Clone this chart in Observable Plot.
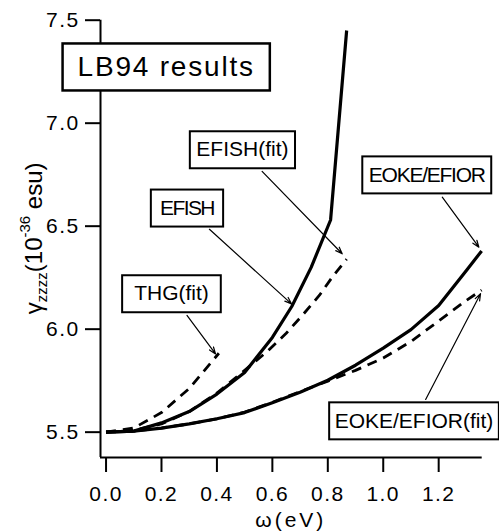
<!DOCTYPE html>
<html><head><meta charset="utf-8">
<script src="https://cdn.jsdelivr.net/npm/d3@7"></script>
<script src="https://cdn.jsdelivr.net/npm/@observablehq/plot@0.6"></script>
<style>
body{margin:0;background:#fff;}
#chart{width:499px;height:531px;}
</style>
</head><body>
<div id="chart"></div>
<script>
// ---- axes ----
const xDomain = [-0.02, 1.357];
const yDomain = [5.377, 7.5];
const xTicks = [0.0, 0.2, 0.4, 0.6, 0.8, 1.0, 1.2];
const yTicks = [5.5, 6.0, 6.5, 7.0, 7.5];

// ---- series (omega in eV, gamma_zzzz in 1e-36 esu) ----
const efishOmega = [0, 0.1, 0.2, 0.3, 0.4, 0.5, 0.6, 0.67, 0.74, 0.81, 0.868];
const efishGamma = [5.50, 5.505, 5.545, 5.60, 5.685, 5.79, 5.96, 6.11, 6.30, 6.53, 7.45];

const efishFitOmega = [0, 0.1, 0.2, 0.3, 0.4, 0.5, 0.58, 0.65, 0.71, 0.77, 0.82, 0.868];
const efishFitGamma = [5.50, 5.51, 5.54, 5.60, 5.69, 5.80, 5.89, 5.98, 6.07, 6.165, 6.26, 6.34];

const thgFitOmega = [0, 0.1, 0.2, 0.3, 0.407];
const thgFitGamma = [5.50, 5.52, 5.595, 5.712, 5.883];

const eokeOmega = [0, 0.1, 0.2, 0.3, 0.4, 0.5, 0.6, 0.7, 0.8, 0.9, 1.0, 1.1, 1.2, 1.3, 1.355];
const eokeGamma = [5.50, 5.505, 5.52, 5.54, 5.565, 5.595, 5.643, 5.694, 5.752, 5.825, 5.908, 5.998, 6.115, 6.285, 6.38];

const eokeFitOmega = [0, 0.1, 0.2, 0.3, 0.4, 0.5, 0.6, 0.7, 0.8, 0.9, 1.0, 1.1, 1.2, 1.3, 1.355];
const eokeFitGamma = [5.50, 5.505, 5.52, 5.54, 5.565, 5.597, 5.645, 5.697, 5.748, 5.80, 5.86, 5.94, 6.04, 6.14, 6.19];

// ---- annotations ----
const labelTexts = ["LB94 results", "EFISH(fit)", "EFISH", "THG(fit)", "EOKE/EFIOR", "EOKE/EFIOR(fit)"];
const labelOmega = [0.217, 0.492, 0.292, 0.236, 1.157, 1.111];
const labelGamma = [7.273, 6.871, 6.588, 6.172, 6.749, 5.555];

const arrowFromOmega = [0.563, 0.373, 0.292, 1.213, 1.153];
const arrowFromGamma = [6.766, 6.485, 6.067, 6.641, 5.659];
const arrowToOmega   = [0.852, 0.669, 0.395, 1.345, 1.351];
const arrowToGamma   = [6.366, 6.123, 5.880, 6.398, 6.172];

// ---- styles (kept apart from data) ----
const labelFontSize = [28, 21, 21, 21, 21, 21];
const labelLetterSpacing = [1.8, 0, -1.6, 0, -1.25, 0];
const boxPadX = [15, 6.5, 9, 12, 6, 5.5];
const boxHeight = [47, 37, 37, 37, 37, 37];
const boxStroke = [2.5, 2, 2, 2, 2, 2];
const FONT = "'Liberation Sans', Arial, Helvetica, sans-serif";

// build tidy tables
const zip = (name, xs, ys) => xs.map((x, i) => ({series: name, omega: x, gamma: ys[i]}));
const solid = [...zip("EFISH", efishOmega, efishGamma), ...zip("EOKE/EFIOR", eokeOmega, eokeGamma)];
const dashed = [...zip("EFISH(fit)", efishFitOmega, efishFitGamma), ...zip("THG(fit)", thgFitOmega, thgFitGamma), ...zip("EOKE/EFIOR(fit)", eokeFitOmega, eokeFitGamma)];
const labels = labelTexts.map((t, i) => ({text: t, omega: labelOmega[i], gamma: labelGamma[i], fs: labelFontSize[i]}));
const arrows = arrowFromOmega.map((x, i) => ({x1: x, y1: arrowFromGamma[i], x2: arrowToOmega[i], y2: arrowToGamma[i]}));
const frameLeft = [{x: xDomain[0], y1: yDomain[0], y2: yDomain[1]}];
const frameBottom = [{y: yDomain[0], x1: xDomain[0], x2: xDomain[1]}];

const plot = Plot.plot({
  width: 499, height: 531,
  marginLeft: 100, marginRight: 17.3, marginTop: 19.7, marginBottom: 74,
  x: {domain: xDomain},
  y: {domain: yDomain},
  style: {fontFamily: FONT, background: "white", color: "black", overflow: "visible"},
  marks: [
    Plot.ruleX(frameLeft, {x: "x", y1: "y1", y2: "y2", strokeWidth: 2, stroke: "black"}),
    Plot.ruleY(frameBottom, {y: "y", x1: "x1", x2: "x2", strokeWidth: 2, stroke: "black"}),
    Plot.axisY(yTicks, {tickSize: 15, tickPadding: 6, strokeWidth: 2, fontSize: 21, tickFormat: d => d.toFixed(1), label: null}),
    Plot.axisX(xTicks, {tickSize: 15, tickPadding: 14, strokeWidth: 2, fontSize: 21, tickFormat: d => d.toFixed(1), label: null}),
    Plot.line(solid, {x: "omega", y: "gamma", z: "series", stroke: "black", strokeWidth: 3.2, strokeLinecap: "butt"}),
    Plot.line(dashed, {x: "omega", y: "gamma", z: "series", stroke: "black", strokeWidth: 2.8, strokeDasharray: "10,7", strokeLinecap: "butt"}),
    Plot.arrow(arrows, {x1: "x1", y1: "y1", x2: "x2", y2: "y2", stroke: "black", strokeWidth: 1.2, headLength: 9, headAngle: 40}),
    Plot.text(labels, {x: "omega", y: "gamma", text: "text", fontSize: "fs", fill: "black", textAnchor: "middle"})
  ]
});

document.getElementById("chart").appendChild(plot);
const svg = d3.select(plot);
const xs = plot.scale("x"), ys = plot.scale("y");

// tick label spacing
svg.selectAll('g[aria-label="y-axis tick label"] text, g[aria-label="x-axis tick label"] text')
  .attr("letter-spacing", 1.4);

// boxes behind the labels
svg.selectAll('g[aria-label="text"] text').each(function(d, i) {
  const t = d3.select(this);
  t.attr("letter-spacing", labelLetterSpacing[i]);
  const bb = this.getBBox();
  const w = bb.width + 2 * boxPadX[i];
  const h = boxHeight[i];
  const cx = xs.apply(labelOmega[i]);
  const cy = ys.apply(labelGamma[i]);
  const rect = document.createElementNS("http://www.w3.org/2000/svg", "rect");
  this.parentNode.insertBefore(rect, this);
  d3.select(rect)
    .attr("x", cx - w / 2).attr("y", cy - h / 2)
    .attr("width", w).attr("height", h)
    .attr("fill", "white").attr("stroke", "black").attr("stroke-width", boxStroke[i]);
});

// axis titles
const pxLeft = xs.apply(xDomain[0]), pxRight = xs.apply(xDomain[1]);
const pxTop = ys.apply(yDomain[1]), pxBottom = ys.apply(yDomain[0]);
svg.append("text")
  .attr("x", (pxLeft + pxRight) / 2).attr("y", 527)
  .attr("text-anchor", "middle").attr("font-size", 21).attr("letter-spacing", 3)
  .attr("font-family", FONT).attr("fill", "black")
  .text("ω(eV)");

const yl = svg.append("text")
  .attr("transform", `translate(${pxLeft - 58},${(pxTop + pxBottom) / 2}) rotate(-90)`)
  .attr("text-anchor", "middle").attr("font-size", 24)
  .attr("font-family", FONT).attr("fill", "black");
yl.append("tspan").text("γ");
yl.append("tspan").attr("font-size", 15).attr("dy", 5).text("zzzz");
yl.append("tspan").attr("dy", -5).text("(10");
yl.append("tspan").attr("font-size", 15).attr("dy", -12).text("-36");
yl.append("tspan").attr("dy", 12).text(" esu)");
</script>
</body></html>
